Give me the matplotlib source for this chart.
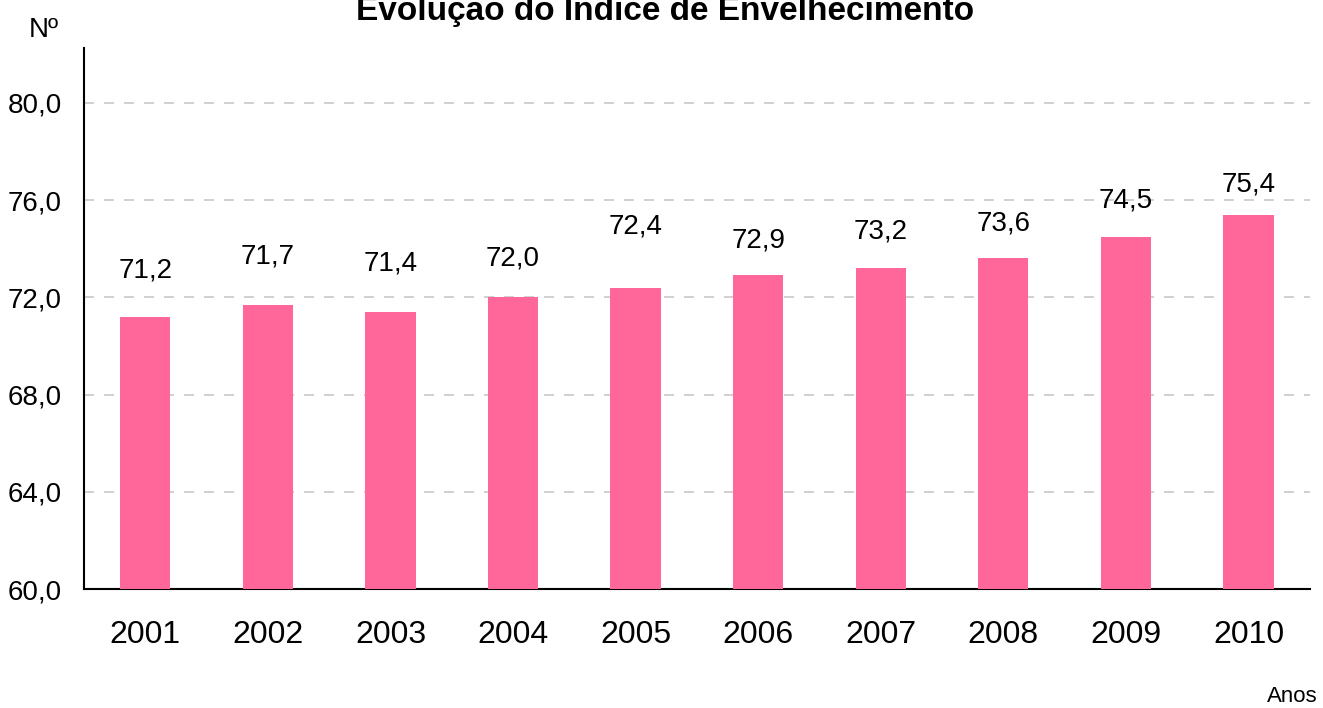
import matplotlib
matplotlib.use('Agg')
import matplotlib.pyplot as plt
from matplotlib.ticker import FuncFormatter

anos = ['2001', '2002', '2003', '2004', '2005', '2006', '2007', '2008', '2009', '2010']
indice = [71.2, 71.7, 71.4, 72.0, 72.4, 72.9, 73.2, 73.6, 74.5, 75.4]
# label heights above each bar (the original has them a bit uneven)
label_offsets = [1.9, 2.0, 2.0, 1.6, 2.5, 1.45, 1.5, 1.45, 1.5, 1.25]

plt.rcParams['font.family'] = ['Liberation Sans', 'DejaVu Sans']

fig = plt.figure(figsize=(13.23, 7.08), dpi=100)
ax = fig.add_axes([0.0635, 0.168, 0.9265, 0.764])

x = range(len(anos))
ax.bar(x, indice, width=0.41, color='#FF6699', zorder=3)

for i, v in enumerate(indice):
    ax.text(i, v + label_offsets[i], f'{v:.1f}'.replace('.', ','),
            ha='center', va='center', fontsize=20)

ax.set_xlim(-0.5, 9.5)
ax.set_ylim(60, 82.25)
ax.set_yticks([60, 64, 68, 72, 76, 80])
ax.yaxis.set_major_formatter(FuncFormatter(lambda v, p: f'{v:.1f}'.replace('.', ',')))
ax.set_xticks(list(x))
ax.set_xticklabels(anos)
ax.tick_params(axis='x', length=0, labelsize=23, pad=22)
ax.tick_params(axis='y', length=0, labelsize=20, pad=16)

ax.grid(axis='y', color='#c8c8c8', linestyle=(0, (6, 6)), linewidth=1.2, zorder=0)
for s in ['top', 'right']:
    ax.spines[s].set_visible(False)
ax.spines['left'].set_linewidth(1.5)
ax.spines['bottom'].set_linewidth(1.5)

fig.text(0.503, 0.972, 'Evolução do Índice de Envelhecimento', ha='center', va='baseline',
         fontsize=24, fontweight='bold')
fig.text(0.033, 0.957, 'Nº', ha='center', va='center', fontsize=20)
fig.text(0.977, 0.016, 'Anos', ha='center', va='center', fontsize=16)

fig.savefig('out.png', dpi=100)
